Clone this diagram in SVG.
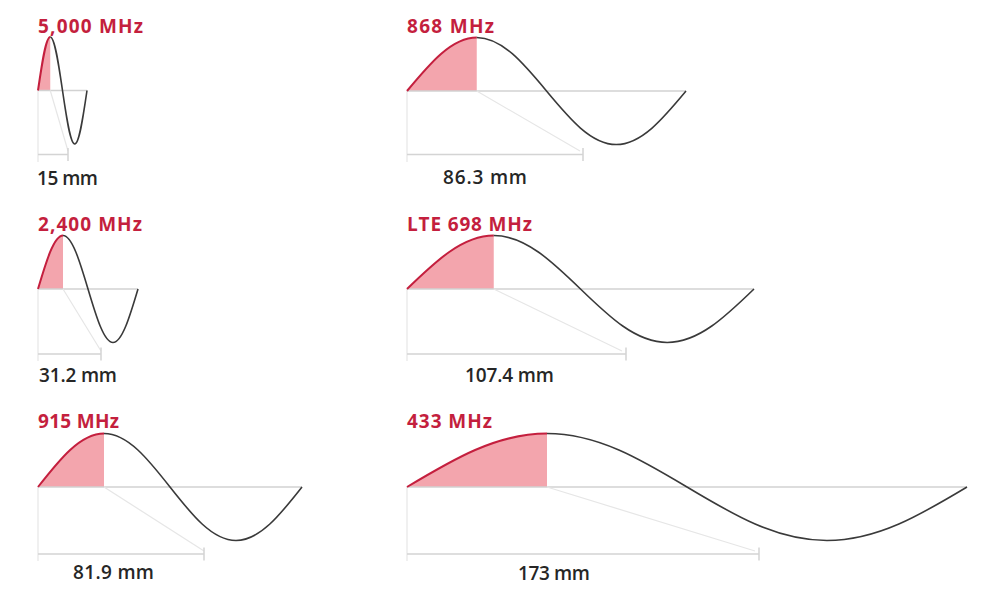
<svg xmlns="http://www.w3.org/2000/svg" width="1000" height="595" viewBox="0 0 1000 595">
<style>
.lbl{font-family:"Open Sans","Liberation Sans",sans-serif;font-weight:700;font-size:19px;fill:#c41f3e}
.dim{font-family:"Open Sans","Liberation Sans",sans-serif;font-weight:600;font-size:19px;fill:#262626}
.base{stroke:#d2d2d2;stroke-width:1.5;fill:none}
.guide{stroke:#e6e6e6;stroke-width:1.2;fill:none}
.dl{stroke:#d4d4d4;stroke-width:1.5;fill:none}
.fill{fill:#f3a5ad;stroke:none}
.red{stroke:#c41f3e;stroke-width:2;fill:none}
.wave{stroke:#3a3a3a;stroke-width:1.6;fill:none}
</style>
<rect width="1000" height="595" fill="#fff"/>
<g id="p5000">
<path class="fill" d="M38,90.5 C42,63.1 45.82,37 50.25,37 L50.25,90.5 Z"/>
<path class="base" d="M38,90.5 H87"/>
<path class="guide" d="M38,90.5 V162 M50.25,90.5 L68,151"/>
<path class="dl" d="M38,154.5 H68 M68,148 V161"/>
<path class="red" d="M38,90.5 C42,63.1 45.82,37 50.25,37"/>
<path class="wave" d="M50.25,37 C54.68,37 58.5,63.1 62.5,90.5 C66.5,117.9 70.32,144 74.75,144 C79.18,144 83,117.9 87,90.5"/>
<text class="lbl" x="38" y="33" textLength="105" lengthAdjust="spacing">5,000 MHz</text>
<text class="dim" x="37" y="185" textLength="61" lengthAdjust="spacing">15 mm</text>
</g>
<g id="p2400">
<path class="fill" d="M38,289 C46.16,261.6 53.95,235.5 63,235.5 L63,289 Z"/>
<path class="base" d="M38,289 H138"/>
<path class="guide" d="M38,289 V361 M63,289 L101,351"/>
<path class="dl" d="M38,354 H101 M101,347.5 V360.5"/>
<path class="red" d="M38,289 C46.16,261.6 53.95,235.5 63,235.5"/>
<path class="wave" d="M63,235.5 C72.05,235.5 79.84,261.6 88,289 C96.16,316.4 103.95,342.5 113,342.5 C122.05,342.5 129.84,316.4 138,289"/>
<text class="lbl" x="38" y="231" textLength="104" lengthAdjust="spacing">2,400 MHz</text>
<text class="dim" x="39" y="382" textLength="78" lengthAdjust="spacing">31.2 mm</text>
</g>
<g id="p915">
<path class="fill" d="M38,487 C59.54,459.6 80.11,433.5 104,433.5 L104,487 Z"/>
<path class="base" d="M38,487 H302"/>
<path class="guide" d="M38,487 V561 M104,487 L204,551"/>
<path class="dl" d="M38,554 H204 M204,547.5 V560.5"/>
<path class="red" d="M38,487 C59.54,459.6 80.11,433.5 104,433.5"/>
<path class="wave" d="M104,433.5 C127.89,433.5 148.46,459.6 170,487 C191.54,514.4 212.11,540.5 236,540.5 C259.89,540.5 280.46,514.4 302,487"/>
<text class="lbl" x="38" y="428" textLength="81" lengthAdjust="spacing">915 MHz</text>
<text class="dim" x="73" y="579" textLength="81" lengthAdjust="spacing">81.9 mm</text>
</g>
<g id="p868">
<path class="fill" d="M407,91 C429.76,63.6 451.51,37.5 476.75,37.5 L476.75,91 Z"/>
<path class="base" d="M407,91 H686"/>
<path class="guide" d="M407,91 V162 M476.75,91 L580,151"/>
<path class="dl" d="M407,154.5 H583 M583,148 V161"/>
<path class="red" d="M407,91 C429.76,63.6 451.51,37.5 476.75,37.5"/>
<path class="wave" d="M476.75,37.5 C501.99,37.5 523.74,63.6 546.5,91 C569.26,118.4 591.01,144.5 616.25,144.5 C641.49,144.5 663.24,118.4 686,91"/>
<text class="lbl" x="407" y="33" textLength="87" lengthAdjust="spacing">868 MHz</text>
<text class="dim" x="443" y="184" textLength="84" lengthAdjust="spacing">86.3 mm</text>
</g>
<g id="p698">
<path class="fill" d="M407,289 C435.31,261.6 462.35,235.5 493.75,235.5 L493.75,289 Z"/>
<path class="base" d="M407,289 H754"/>
<path class="guide" d="M407,289 V361 M493.75,289 L622,351"/>
<path class="dl" d="M407,354 H626 M626,347.5 V360.5"/>
<path class="red" d="M407,289 C435.31,261.6 462.35,235.5 493.75,235.5"/>
<path class="wave" d="M493.75,235.5 C525.15,235.5 552.19,261.6 580.5,289 C608.81,316.4 635.85,342.5 667.25,342.5 C698.65,342.5 725.69,316.4 754,289"/>
<text class="lbl" x="407" y="231" textLength="125" lengthAdjust="spacing">LTE 698 MHz</text>
<text class="dim" x="465" y="382" textLength="89" lengthAdjust="spacing">107.4 mm</text>
</g>
<g id="p433">
<path class="fill" d="M407,487 C452.68,459.6 496.33,433.5 547,433.5 L547,487 Z"/>
<path class="base" d="M407,487 H967"/>
<path class="guide" d="M407,487 V561 M547,487 L755,551"/>
<path class="dl" d="M407,554 H759 M759,547.5 V560.5"/>
<path class="red" d="M407,487 C452.68,459.6 496.33,433.5 547,433.5"/>
<path class="wave" d="M547,433.5 C597.67,433.5 641.32,459.6 687,487 C732.68,514.4 776.33,540.5 827,540.5 C877.67,540.5 921.32,514.4 967,487"/>
<text class="lbl" x="407" y="428" textLength="85" lengthAdjust="spacing">433 MHz</text>
<text class="dim" x="518" y="580" textLength="72" lengthAdjust="spacing">173 mm</text>
</g>
</svg>
